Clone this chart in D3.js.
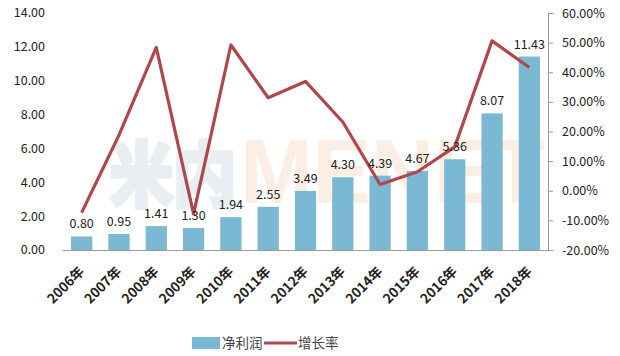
<!DOCTYPE html>
<html><head><meta charset="utf-8">
<script src="https://cdn.jsdelivr.net/npm/d3@7"></script>
<style>body{margin:0;background:#fff}svg{display:block;font-family:"Noto Sans CJK SC","Liberation Sans",sans-serif}</style>
</head><body>
<svg id="c" width="620" height="356"></svg>
<script>
const years = ["2006年","2007年","2008年","2009年","2010年","2011年","2012年","2013年","2014年","2015年","2016年","2017年","2018年"];
const profit = [0.80,0.95,1.41,1.30,1.94,2.55,3.49,4.30,4.39,4.67,5.36,8.07,11.43];
const growth = [-0.074,0.1875,0.484,-0.078,0.492,0.314,0.369,0.232,0.021,0.064,0.148,0.506,0.416];
const leftTicks = [0,2,4,6,8,10,12,14];
const rightTicks = [-0.2,-0.1,0,0.1,0.2,0.3,0.4,0.5,0.6];
const seriesNames = ["净利润","增长率"];
const watermark = ["米内","MENET"];

const svg = d3.select("#c");
const L = 63, R = 548, T = 13, B = 250;
const x = d3.scaleBand().domain(years).range([L, R]).paddingInner(0.43).paddingOuter(0.215);
const y = d3.scaleLinear().domain([0,14]).range([B, T]);
const y2 = d3.scaleLinear().domain([-0.2,0.6]).range([B, T]);
const barColor = "#7BB8D3", lineColor = "#B0474C";

// watermark
svg.append("text").attr("x", 110).attr("y", 201).attr("font-size", 70).attr("font-weight", "bold")
  .attr("fill", "#E9EEF2").attr("stroke", "#E9EEF2").attr("stroke-width", 5)
  .attr("textLength", 126).attr("lengthAdjust", "spacingAndGlyphs").text(watermark[0]);
svg.append("text").attr("x", 240).attr("y", 203).attr("font-size", 90).attr("font-weight", "bold")
  .style("font-family", '"Liberation Sans",sans-serif')
  .attr("fill", "#FCEEE2").attr("textLength", 305).attr("lengthAdjust", "spacingAndGlyphs").text(watermark[1]);

// left axis labels
svg.append("g").selectAll("text").data(leftTicks).join("text")
  .attr("x", 45).attr("y", d => y(d)).attr("dy", "0.35em")
  .attr("text-anchor", "end").attr("font-size", 12.5).attr("fill", "#222")
  .text(d => d.toFixed(2));

// bars
svg.append("g").selectAll("rect").data(profit).join("rect")
  .attr("x", (d,i) => x(years[i])).attr("width", x.bandwidth())
  .attr("y", d => y(d)).attr("height", d => B - y(d)).attr("fill", barColor);

// baseline
svg.append("line").attr("x1", L).attr("x2", R).attr("y1", B+0.5).attr("y2", B+0.5).attr("stroke", "#999");

// right axis
const ra = svg.append("g").attr("transform", `translate(${R},0)`)
  .call(d3.axisRight(y2).tickValues(rightTicks).tickSize(5).tickFormat(d => (d*100).toFixed(2) + "%"));
ra.select(".domain").attr("stroke", "#999");
ra.selectAll(".tick line").attr("stroke", "#999");
ra.selectAll("text").attr("font-size", 12.5).attr("fill", "#222").attr("x", 14).style("font-family", '"Noto Sans CJK SC","Liberation Sans",sans-serif');

// line
const line = d3.line().x((d,i) => x(years[i]) + x.bandwidth()/2).y(d => y2(d));
svg.append("path").datum(growth).attr("d", line).attr("fill", "none")
  .attr("stroke", lineColor).attr("stroke-width", 3.2).attr("stroke-linejoin", "round");

// value labels
svg.append("g").selectAll("text").data(profit).join("text")
  .attr("x", (d,i) => x(years[i]) + x.bandwidth()/2).attr("y", d => y(d) - 8)
  .attr("text-anchor", "middle").attr("font-size", 12.5).attr("fill", "#222")
  .text(d => d.toFixed(2));

// x labels
svg.append("g").selectAll("text").data(years).join("text")
  .attr("transform", d => `translate(${x(d) + x.bandwidth()/2},${B + 19}) rotate(-45)`)
  .attr("text-anchor", "end").attr("dy", "0.35em").attr("font-size", 13.5).attr("font-weight", "bold").attr("fill", "#222")
  .text(d => d);

// legend
const lg = svg.append("g").attr("transform", "translate(0,343)");
lg.append("rect").attr("x", 192).attr("y", -6).attr("width", 28).attr("height", 12).attr("fill", barColor);
lg.append("text").attr("x", 222).attr("y", 0).attr("dy", "0.35em").attr("font-size", 13.5).attr("fill", "#444").text(seriesNames[0]);
lg.append("line").attr("x1", 264).attr("x2", 297).attr("y1", 0).attr("y2", 0).attr("stroke", lineColor).attr("stroke-width", 3.2);
lg.append("text").attr("x", 298).attr("y", 0).attr("dy", "0.35em").attr("font-size", 13.5).attr("fill", "#444").text(seriesNames[1]);
</script>
</body></html>
